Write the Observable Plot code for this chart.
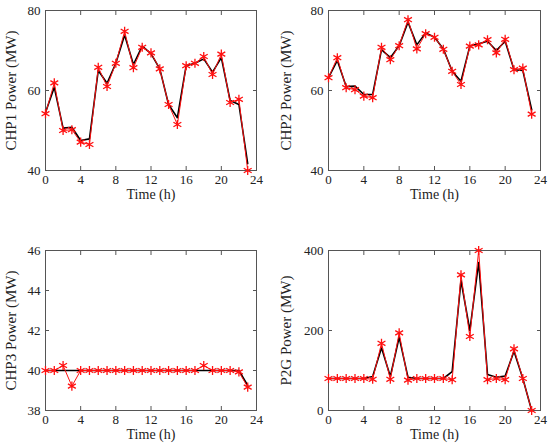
<!DOCTYPE html>
<html>
<head>
<meta charset="utf-8">
<script src="https://cdn.jsdelivr.net/npm/d3@7"></script>
<script src="https://cdn.jsdelivr.net/npm/@observablehq/plot@0.6"></script>
<style>
  html, body { margin: 0; padding: 0; background: white; }
  #wrap { position: relative; width: 550px; height: 447px; background: white; }
  .cell { position: absolute; }
</style>
</head>
<body>
<div id="wrap"></div>
<script>
const hours = [0,1,2,3,4,5,6,7,8,9,10,11,12,13,14,15,16,17,18,19,20,21,22,23];
const xTicks = [0,4,8,12,16,20,24];

// CHP1
const chp1Red   = [54.2,61.9,50.0,50.2,47.1,46.5,65.8,61.0,66.8,74.8,65.7,70.8,69.4,65.4,56.5,51.5,66.2,66.8,68.5,64.0,69.1,57.0,57.8,40.0];
const chp1Black = [54.5,60.8,50.6,50.8,47.5,47.9,65.0,61.8,66.8,73.9,66.5,71.1,69.2,65.4,56.5,53.2,66.2,66.8,67.9,64.6,68.2,57.5,56.5,41.7];
// CHP2
const chp2Red   = [63.2,68.2,60.7,60.2,58.6,58.2,70.8,67.7,71.2,77.7,70.4,74.2,73.3,70.3,64.8,61.5,71.1,71.4,72.7,69.4,72.8,65.2,65.6,54.1];
const chp2Black = [63.2,67.5,61.0,61.1,59.0,59.0,70.2,68.2,71.2,77.1,71.4,74.4,73.3,70.4,64.8,62.3,71.1,71.7,72.3,70.0,72.3,65.2,65.0,55.2];
// CHP3
const chp3Red   = [40,40,40.25,39.22,40,40,40,40,40,40,40,40,40,40,40,40,40,40,40.25,40,40,40,39.93,39.17];
const chp3Black = [40,40,40,40,40,40,40,40,40,40,40,40,40,40,40,40,40,40,40,40,40,40,40,39.25];
// P2G
const p2gRed    = [80,80,80,80,80,78,168,78,194,76,80,80,80,80,77,339,185,400,77,80,77,154,80,0];
const p2gBlack  = [80,80,80,80,80,85,157,85,183,83,80,80,80,80,97,325,200,370,90,83,86,148,80,0];

const panels = [
  {left: 0,   top: 0,   red: chp1Red, black: chp1Black, domain: [40,80],  ticks: [40,60,80],       label: "CHP1 Power (MW)", ml: 45, mr: 19},
  {left: 275, top: 0,   red: chp2Red, black: chp2Black, domain: [40,80],  ticks: [40,60,80],       label: "CHP2 Power (MW)", ml: 53, mr: 10},
  {left: 0,   top: 240, red: chp3Red, black: chp3Black, domain: [38,46],  ticks: [38,40,42,44,46], label: "CHP3 Power (MW)", ml: 45, mr: 19},
  {left: 275, top: 240, red: p2gRed,  black: p2gBlack,  domain: [0,400],  ticks: [0,200,400],      label: "P2G Power (MW)",  ml: 53, mr: 10}
];

const wrap = document.getElementById("wrap");
const font = "'Liberation Serif', 'Times New Roman', serif";
const axisColor = "#555";
const blank = () => "";

for (const p of panels) {
  const data = hours.map((h, i) => ({h, r: p.red[i], b: p.black[i]}));
  const chart = Plot.plot({
    width: 275,
    height: 200,
    marginTop: 10,
    marginBottom: 30,
    marginLeft: p.ml,
    marginRight: p.mr,
    style: {fontFamily: font, fontSize: "13px", color: "#222", background: "white", overflow: "visible"},
    x: {domain: [0, 24]},
    y: {domain: p.domain},
    marks: [
      Plot.frame({stroke: axisColor, strokeWidth: 1}),
      // inward tick marks on all four sides
      Plot.axisX({ticks: xTicks, tickSize: 4, dy: -4, stroke: axisColor, tickFormat: blank, label: null}),
      Plot.axisX({anchor: "top", ticks: xTicks, tickSize: 4, dy: 4, stroke: axisColor, tickFormat: blank, label: null}),
      Plot.axisY({ticks: p.ticks, tickSize: 4, dx: 4, stroke: axisColor, tickFormat: blank, label: null}),
      Plot.axisY({anchor: "right", ticks: p.ticks, tickSize: 4, dx: -4, stroke: axisColor, tickFormat: blank, label: null}),
      // tick labels and axis titles
      Plot.axisX({ticks: xTicks, tickSize: 0, tickPadding: 4, fill: "#222", fontSize: 13,
                  label: "Time (h)", labelAnchor: "center", labelArrow: "none", labelOffset: 28}),
      Plot.axisY({ticks: p.ticks, tickSize: 0, tickPadding: 5, fill: "#222", fontSize: 13,
                  label: p.label, labelAnchor: "center", labelArrow: "none", labelOffset: p.ml - 5}),
      Plot.line(data, {x: "h", y: "b", stroke: "black", strokeWidth: 1.6}),
      Plot.line(data, {x: "h", y: "r", stroke: "#ff1010", strokeWidth: 1}),
      Plot.dot(data, {x: "h", y: "r", symbol: "asterisk", r: 4.3, stroke: "#ff1010", strokeWidth: 1.3})
    ]
  });
  const cell = document.createElement("div");
  cell.className = "cell";
  cell.style.left = p.left + "px";
  cell.style.top = p.top + "px";
  cell.appendChild(chart);
  wrap.appendChild(cell);
}

// axis label font sizes; strip any direction arrows
for (const g of wrap.querySelectorAll("[aria-label='x-axis label']")) g.setAttribute("font-size", "14");
for (const g of wrap.querySelectorAll("[aria-label='y-axis label']")) g.setAttribute("font-size", "15");
for (const t of wrap.querySelectorAll("[aria-label$='axis label'] text")) {
  t.textContent = t.textContent.replace(/\s*[↑↓←→]\s*/g, "").trim();
}
</script>
</body>
</html>
